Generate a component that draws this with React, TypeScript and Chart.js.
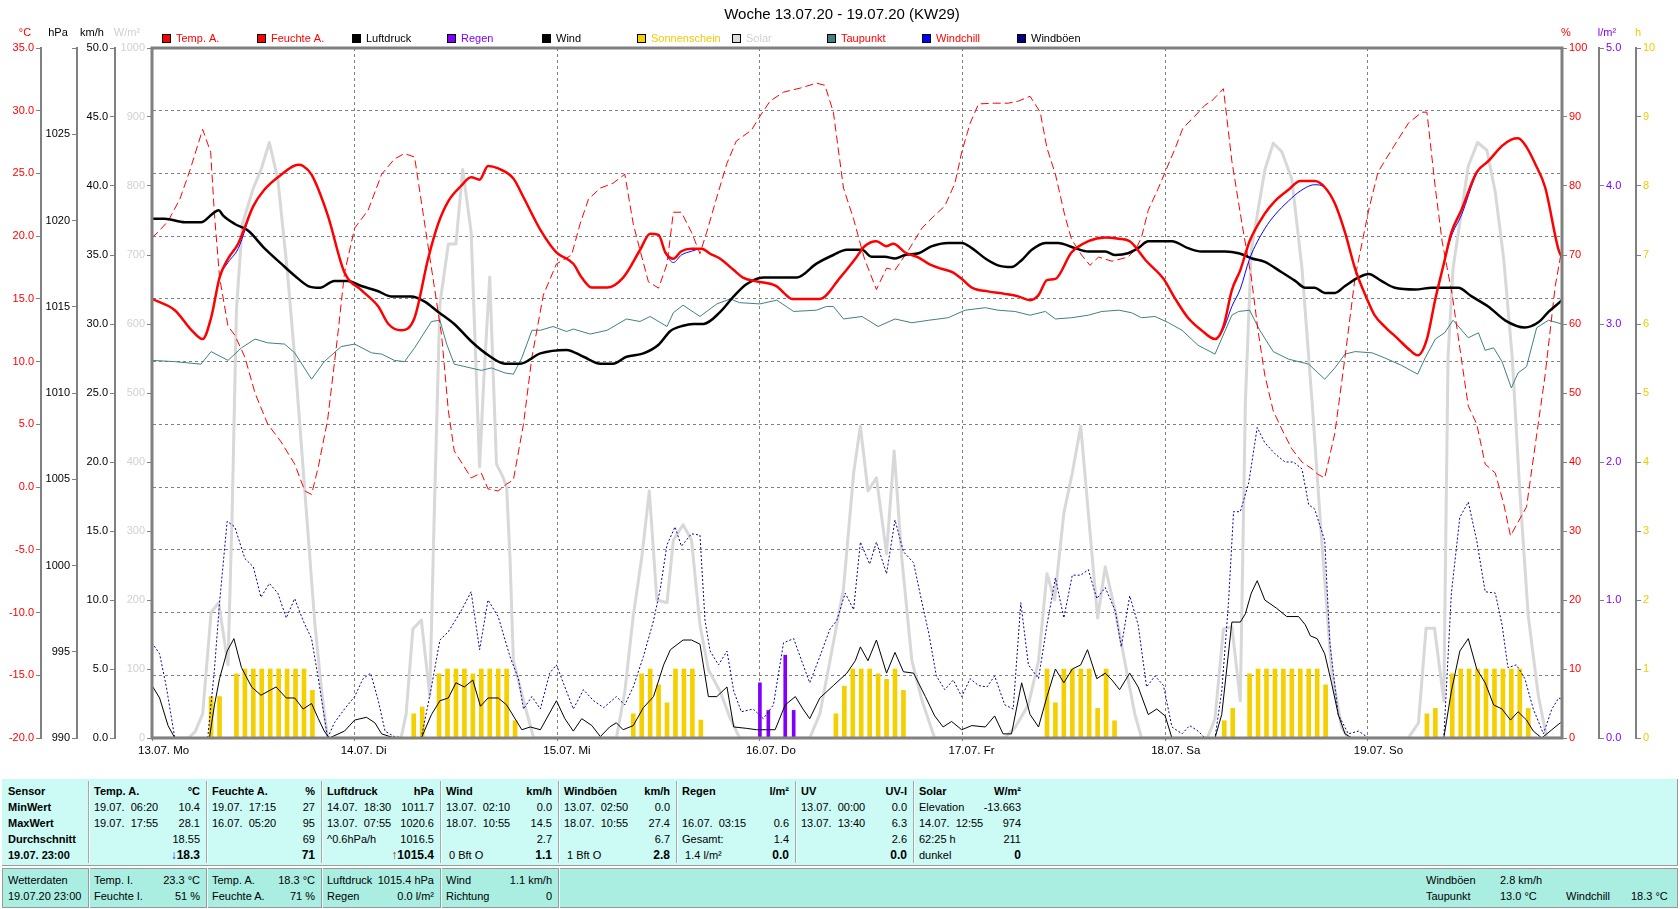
import React, { useEffect, useRef } from 'react';
import { Chart, registerables } from 'chart.js';

Chart.register(...registerables);

const FONT = '"Liberation Sans", Arial, Helvetica, sans-serif';
Chart.defaults.font.family = FONT;

const TITLE = 'Woche 13.07.20 - 19.07.20 (KW29)';
const DAY_LABELS = ['13.07. Mo', '14.07. Di', '15.07. Mi', '16.07. Do', '17.07. Fr', '18.07. Sa', '19.07. So'];
const HOURS_MAX = 167;

type P = [number, number];

// Temp. A. (°C)  [hour since 13.07 00:00, value]
const TEMP: P[] = [[0,15.0],[2.7,14.1],[4.7,12.5],[6.0,11.8],[7.0,13.5],[8.0,16.7],[9.0,18.2],[10.2,19.4],[12.0,22.4],[13.3,23.7],[15.3,24.9],[17.3,25.7],[17.9,25.6],[18.9,24.9],[20.8,21.7],[22.8,17.1],[24.8,15.7],[26.8,14.4],[28.0,13.0],[29.5,12.5],[31.1,13.5],[32.7,18.2],[33.9,21.0],[35.1,22.8],[36.6,24.0],[37.8,24.7],[38.8,24.5],[39.8,25.6],[41.0,25.4],[42.8,24.6],[44.0,23.1],[46.0,20.5],[47.9,18.7],[49.9,17.8],[50.9,16.7],[52.1,15.9],[53.9,15.9],[55.8,16.7],[57.8,18.9],[59.0,20.2],[60.0,20.1],[60.8,18.7],[61.75,18.2],[62.7,18.8],[63.9,19.0],[65.1,19.0],[66.1,18.6],[67.3,18.2],[68.9,17.3],[70.0,16.7],[71.6,16.4],[74.0,16.0],[74.8,15.5],[75.8,15.0],[79.1,15.0],[81.5,16.7],[83.3,18.2],[84.4,19.2],[85.8,19.6],[87.0,19.2],[87.8,19.4],[89.2,18.7],[90.8,18.3],[92.0,17.8],[93.5,17.4],[94.9,17.1],[95.9,16.6],[97.1,15.9],[99.0,15.6],[101.0,15.4],[102.6,15.2],[104.0,14.9],[105.0,15.3],[106.0,16.5],[107.0,16.6],[108.9,18.7],[110.9,19.6],[112.9,19.9],[114.5,19.8],[115.8,19.6],[117.8,18.0],[119.8,16.6],[121.2,15.0],[122.7,13.5],[124.3,12.5],[125.9,11.8],[126.9,12.8],[127.9,15.7],[128.9,17.3],[130.0,19.6],[131.8,21.8],[133.0,22.8],[134.6,23.7],[136.0,24.4],[137.7,24.4],[138.9,23.9],[140.1,22.6],[141.3,20.3],[142.5,17.4],[143.9,15.0],[144.8,13.7],[146.0,12.8],[147.6,11.8],[149.0,10.9],[149.9,10.5],[151.0,11.8],[152.0,15.0],[153.0,17.8],[153.9,20.3],[155.1,22.1],[156.9,25.1],[158.3,26.0],[159.9,27.2],[161.0,27.7],[161.8,27.8],[162.8,27.1],[163.8,25.8],[165.0,23.9],[166.6,18.9],[167,18.3]];

// Windchill (°C)
const WINDCHILL: P[] = [[0,15.0],[2.7,14.1],[4.7,12.5],[6.0,11.8],[7.0,13.5],[8.0,16.7],[9.0,17.9],[10.2,19.0],[12.0,22.4],[13.3,23.7],[15.3,24.9],[17.3,25.7],[17.9,25.6],[18.9,24.9],[20.8,21.7],[22.8,17.1],[24.8,15.7],[26.8,14.4],[28.0,13.0],[29.5,12.5],[31.1,13.5],[32.7,18.2],[33.9,21.0],[35.1,22.8],[36.6,24.0],[37.8,24.7],[38.8,24.5],[39.8,25.6],[41.0,25.4],[42.8,24.6],[44.0,23.1],[46.0,20.5],[47.9,18.7],[49.9,17.8],[50.9,16.7],[52.1,15.9],[53.9,15.9],[55.8,16.7],[57.8,18.9],[59.0,20.2],[60.0,20.1],[60.8,18.7],[61.75,17.9],[62.7,18.5],[63.9,18.8],[65.1,19.0],[66.1,18.6],[67.3,18.2],[68.9,17.3],[70.0,16.7],[71.6,16.4],[74.0,16.0],[74.8,15.5],[75.8,15.0],[79.1,15.0],[81.5,16.7],[83.3,18.2],[84.4,19.2],[85.8,19.6],[87.0,19.2],[87.8,19.4],[89.2,18.7],[90.8,18.3],[92.0,17.8],[93.5,17.4],[94.9,17.1],[95.9,16.6],[97.1,15.9],[99.0,15.6],[101.0,15.4],[102.6,15.2],[104.0,14.9],[105.0,15.3],[106.0,16.5],[107.0,16.6],[108.9,18.7],[110.9,19.6],[112.9,19.9],[114.5,19.8],[115.8,19.6],[117.8,18.0],[119.8,16.6],[121.2,15.0],[122.7,13.5],[124.3,12.5],[125.9,11.8],[126.9,12.6],[127.9,14.4],[128.9,15.8],[130.0,18.2],[131.8,20.6],[133.0,21.7],[134.6,22.8],[136.0,23.6],[137.7,24.1],[138.9,23.9],[140.1,22.6],[141.3,20.3],[142.5,17.4],[143.9,15.0],[144.8,13.7],[146.0,12.8],[147.6,11.8],[149.0,10.9],[149.9,10.5],[151.0,11.8],[152.0,15.0],[153.0,17.8],[153.9,20.0],[155.1,21.7],[156.9,25.0],[158.3,26.0],[159.9,27.2],[161.0,27.7],[161.8,27.8],[162.8,27.1],[163.8,25.8],[165.0,23.9],[166.6,18.9],[167,18.3]];

// Feuchte A. (%)
const HUMIDITY: P[] = [[0,72.5],[0.7,73.3],[1.9,74.9],[3.3,78.1],[4.5,82.3],[6.0,88.2],[6.95,84.9],[7.4,75.8],[8.0,66.8],[9.0,59.7],[9.8,58.4],[11.0,55.2],[12.2,50.0],[13.7,45.5],[15.3,42.9],[16.9,39.7],[18.1,35.8],[18.9,35.3],[19.7,39.3],[20.8,46.1],[22.0,58.4],[22.8,67.4],[24.0,73.9],[25.6,76.5],[27.2,81.7],[28.7,83.9],[29.9,84.7],[31.1,84.2],[32.3,74.5],[33.5,64.9],[34.3,58.4],[35.1,47.4],[35.8,41.6],[37.8,37.7],[39.0,38.4],[39.8,36.1],[41.0,35.8],[42.0,36.8],[42.8,37.4],[44.0,45.5],[45.0,55.2],[46.35,64.2],[47.9,68.7],[49.7,70.0],[50.7,74.5],[51.7,78.1],[53.1,79.7],[54.6,80.4],[56.0,81.7],[57.0,74.5],[57.8,70.7],[58.8,66.1],[60.0,65.2],[61.0,68.7],[61.75,76.2],[62.7,76.2],[63.9,73.3],[64.9,70.2],[65.7,73.3],[66.9,78.4],[68.1,83.3],[69.2,86.5],[71.0,88.1],[72.0,90.1],[73.2,92.3],[74.8,93.6],[76.8,94.2],[78.7,94.9],[79.7,94.6],[80.7,90.7],[81.9,79.7],[83.1,75.2],[84.1,70.7],[84.4,69.4],[85.8,65.0],[87.0,68.1],[88.0,67.8],[89.6,70.7],[91.2,73.9],[92.5,75.5],[93.9,77.1],[95.1,80.4],[95.9,84.9],[96.9,89.1],[97.9,91.9],[99.8,92.0],[101.4,92.0],[102.6,92.3],[104.0,93.0],[105.2,90.7],[106.0,85.5],[107.0,81.7],[108.1,75.8],[108.9,72.3],[110.1,70.0],[111.1,68.5],[112.1,69.7],[113.7,69.1],[115.6,69.7],[116.6,71.0],[117.2,72.6],[118.0,76.5],[119.2,79.7],[120.2,82.6],[121.2,85.5],[122.1,88.4],[123.5,90.1],[124.7,91.7],[125.5,92.3],[126.9,94.1],[127.9,83.6],[129.1,74.5],[130.2,66.8],[131.0,59.0],[131.8,52.6],[132.8,47.4],[133.8,44.8],[135.0,41.9],[136.2,40.0],[137.4,39.0],[138.1,38.2],[138.9,37.7],[140.1,44.2],[141.3,55.2],[142.5,66.8],[144.1,76.5],[145.2,82.0],[146.8,85.2],[148.8,89.1],[150.4,90.7],[151.0,90.7],[152.0,79.7],[152.8,72.0],[154.0,64.2],[154.9,56.5],[155.9,48.1],[156.9,45.5],[157.9,39.7],[159.1,38.4],[160.1,33.9],[160.9,29.3],[161.8,31.3],[162.8,33.5],[163.8,42.2],[165.0,52.6],[166.2,65.5],[167,71]];

// Luftdruck (hPa)
const PRESSURE: P[] = [[0,1020.1],[1.5,1020.1],[3.9,1019.9],[5.8,1019.9],[7.2,1020.4],[7.9,1020.6],[8.4,1020.3],[9.8,1019.8],[11.4,1019.4],[13.3,1018.4],[15.3,1017.5],[16.9,1016.8],[18.5,1016.2],[19.9,1016.1],[21.6,1016.5],[23.2,1016.5],[24.8,1016.2],[26.8,1015.9],[28.3,1015.6],[30.7,1015.6],[32.3,1015.3],[33.9,1014.7],[35.8,1014.0],[37.8,1013.0],[39.8,1012.2],[41.8,1011.7],[43.6,1011.7],[46.0,1012.3],[49.1,1012.5],[51.1,1012.1],[53.1,1011.7],[54.6,1011.7],[56.2,1012.1],[58.2,1012.3],[60.0,1012.8],[61.4,1013.6],[62.9,1013.9],[64.1,1014.0],[65.3,1014.0],[67.3,1014.7],[68.9,1015.6],[70.4,1016.3],[72.4,1016.7],[74.8,1016.7],[76.4,1016.7],[78.7,1017.5],[80.7,1018.0],[82.3,1018.3],[84.1,1018.3],[85.2,1017.9],[86.8,1017.9],[88.0,1017.8],[89.2,1018.0],[90.8,1018.1],[92.3,1018.5],[94.3,1018.7],[95.9,1018.7],[97.1,1018.4],[98.7,1017.8],[100.2,1017.4],[101.8,1017.3],[103.0,1017.7],[104.2,1018.3],[105.8,1018.7],[107.3,1018.7],[109.3,1018.4],[110.9,1018.2],[112.9,1018.2],[114.1,1018.0],[115.6,1018.1],[116.8,1018.4],[118.0,1018.8],[120.8,1018.8],[122.7,1018.4],[124.3,1018.2],[127.1,1018.2],[128.7,1018.1],[130.3,1017.8],[131.8,1017.6],[133.8,1017.0],[135.4,1016.5],[136.6,1016.1],[137.7,1016.1],[138.9,1015.8],[140.1,1015.8],[141.3,1016.2],[142.9,1016.7],[144.1,1016.9],[145.6,1016.5],[147.2,1016.1],[149.6,1016.0],[151.6,1016.1],[154.7,1016.1],[156.3,1015.6],[158.3,1015.0],[160.3,1014.2],[162.6,1013.8],[164.2,1014.1],[165.4,1014.7],[166.8,1015.3],[167,1015.4]];

// Taupunkt (°C)
const DEWPOINT: P[] = [[0,10.1],[2.7,10.0],[5.8,9.8],[7.0,10.8],[9.0,10.1],[10.6,11.1],[12.2,11.8],[13.7,11.5],[15.7,11.4],[16.9,10.7],[18.9,8.6],[20.4,10.0],[22.4,11.2],[24.0,11.4],[26.0,10.7],[27.2,10.6],[28.7,10.1],[29.9,10.0],[31.1,11.1],[33.1,13.2],[34.1,13.3],[34.9,11.4],[35.8,9.8],[39.0,9.3],[40.2,9.5],[41.8,9.1],[42.8,9.0],[43.8,10.3],[45.0,12.5],[46.0,12.5],[47.5,12.8],[49.1,12.4],[49.9,12.6],[51.9,12.2],[53.9,12.5],[56.2,13.4],[57.8,13.2],[59.0,13.6],[61.0,12.8],[61.75,13.9],[62.9,14.5],[64.9,13.6],[66.9,14.6],[68.5,15.0],[69.6,14.7],[72.0,14.6],[74.0,14.9],[76.0,14.0],[78.7,14.1],[79.9,14.4],[80.7,14.4],[81.9,13.4],[84.1,13.6],[86.0,12.8],[88.0,13.4],[90.0,13.1],[92.0,13.3],[94.3,13.5],[96.3,14.1],[98.7,14.3],[100.2,14.1],[102.2,14.0],[104.0,13.7],[105.8,14.0],[107.0,13.4],[108.9,13.5],[110.9,13.7],[112.5,14.0],[114.5,14.1],[116.0,13.9],[117.2,13.5],[118.8,13.6],[120.4,13.1],[122.0,12.5],[123.9,11.3],[125.9,10.6],[127.9,13.7],[128.7,14.0],[130.0,14.1],[131.2,12.5],[132.8,10.8],[134.6,10.2],[137.0,9.8],[138.9,8.6],[140.1,9.5],[141.3,10.6],[142.5,10.8],[144.5,10.7],[146.0,10.3],[148.0,9.7],[149.9,9.0],[150.8,10.3],[152.0,11.8],[153.1,12.3],[154.1,13.3],[155.9,11.9],[157.1,12.3],[157.9,10.9],[158.9,11.1],[159.9,10.0],[161.0,7.9],[161.8,9.1],[162.8,9.6],[164.0,12.7],[165.4,13.3],[167,13.0]];

// Solar (W/m²)
const SOLAR: P[] = [[0,0],[4.3,0],[5.1,9],[6.0,35],[7.0,182],[7.9,196],[9.0,106],[9.5,330],[10.0,620],[10.7,745],[12.0,797],[12.9,823],[13.9,863],[14.9,810],[16.0,680],[16.9,552],[18.1,358],[19.3,164],[20.1,67],[20.8,0],[29.5,0],[30.1,35],[30.9,158],[31.9,171],[32.9,61],[33.5,358],[34.1,629],[35.1,716],[36.0,716],[36.8,824],[37.8,733],[38.8,393],[39.3,520],[40.0,668],[40.8,397],[41.5,380],[42.0,364],[42.4,261],[42.8,112],[44.0,54],[45.2,0],[55.0,0],[56.0,67],[57.0,177],[58.0,261],[58.9,358],[59.8,200],[61.0,196],[61.75,287],[62.9,309],[63.9,287],[64.9,164],[65.9,99],[67.3,67],[68.5,28],[69.6,0],[77.9,0],[79.1,35],[80.3,112],[81.9,216],[83.1,384],[83.9,452],[84.8,358],[85.8,377],[87.0,267],[87.9,416],[88.8,261],[90.0,112],[91.2,54],[92.7,0],[101.0,0],[102.2,15],[103.8,48],[105.0,112],[106.0,238],[106.9,200],[108.0,326],[109.0,384],[110.0,452],[110.9,326],[112.0,174],[112.9,248],[114.1,183],[115.2,112],[116.4,35],[117.2,0],[125.0,0],[125.9,28],[126.9,158],[127.9,161],[128.9,54],[129.5,487],[130.2,707],[131.8,823],[132.8,862],[133.8,850],[135.0,810],[136.2,681],[137.4,487],[138.5,293],[139.7,99],[140.9,15],[141.7,0],[148.8,0],[150.0,22],[150.9,159],[151.9,159],[153.0,54],[153.5,552],[154.1,681],[155.9,829],[157.0,863],[158.1,852],[159.1,791],[160.1,694],[161.1,552],[162.0,358],[163.0,177],[164.2,61],[165.2,0],[167,0]];

// Wind (km/h)
const WIND: P[] = [[0,3.8],[0.9,2.9],[1.9,0.9],[2.7,0],[6.8,0],[7.4,2.4],[8.0,4.3],[8.9,6.3],[9.7,7.2],[10.6,5.1],[11.8,3.7],[12.9,3.1],[14.7,3.7],[15.9,2.9],[16.9,2.9],[17.9,2.1],[18.9,2.5],[19.7,1.4],[20.4,0.5],[21.0,0],[22.8,0.5],[24.0,1.3],[25.4,1.5],[26.4,1.1],[27.2,0.3],[28.7,0],[31.9,0],[33.1,1.7],[34.1,2.7],[35.1,2.9],[36.0,4.0],[37.0,3.7],[38.0,4.2],[38.9,2.3],[39.8,2.9],[41.0,2.9],[42.0,2.4],[42.8,1.6],[43.8,0.6],[44.8,0.8],[46.0,0.6],[47.9,2.7],[48.9,1.4],[49.9,0.5],[50.9,1.4],[52.1,0.9],[53.1,0.1],[54.2,0.8],[55.0,1.1],[55.8,0.6],[57.0,0.9],[58.2,2.2],[59.4,3.0],[60.6,5.3],[61.4,6.4],[62.9,7.1],[63.9,7.1],[64.9,6.8],[65.9,3.0],[66.9,3.0],[68.1,3.7],[68.9,0.8],[70.4,0.7],[71.6,0.6],[72.8,0.6],[73.8,0.6],[75.0,2.4],[76.2,3.0],[77.1,2.1],[77.9,1.4],[79.1,2.9],[80.7,3.8],[82.3,4.7],[83.3,5.6],[83.9,6.6],[84.8,5.6],[85.8,7.1],[87.0,4.7],[88.0,6.2],[89.0,4.8],[90.2,4.7],[91.6,3.0],[92.7,1.6],[93.7,0.8],[94.7,1.2],[95.9,0.6],[97.1,0.9],[98.7,0.8],[99.8,1.6],[100.8,0.3],[101.8,0.3],[103.0,4.0],[104.0,1.7],[105.0,0.8],[106.0,3.0],[107.0,5.0],[108.0,4.0],[109.0,5.0],[110.0,5.3],[110.8,6.4],[111.9,4.3],[112.9,4.7],[113.7,4.2],[114.6,3.5],[115.8,4.7],[116.8,3.7],[118.0,1.7],[119.0,2.1],[120.0,1.6],[120.8,0],[125.9,0],[126.7,1.7],[127.9,8.4],[128.9,8.4],[129.5,9.0],[130.2,10.5],[130.9,11.4],[131.8,10.0],[133.2,9.4],[134.4,8.8],[135.8,8.8],[136.6,8.2],[137.2,7.4],[138.0,7.2],[138.9,6.1],[139.7,4.0],[140.5,1.7],[141.3,0.3],[142.1,0],[153.0,0],[153.9,3.4],[154.9,6.3],[155.9,7.2],[156.9,5.0],[157.9,4.0],[158.9,2.4],[159.9,2.1],[160.9,1.3],[161.8,1.9],[162.8,1.3],[163.6,0.5],[164.6,0],[165.8,0.6],[166.8,1.1],[167,1.1]];

// Windböen (km/h)
const GUST: P[] = [[0,6.9],[0.9,6.1],[1.7,3.7],[2.7,0],[6.6,0],[7.4,5.0],[8.0,9.8],[8.9,15.7],[9.8,15.3],[11.0,13.0],[12.0,12.4],[12.9,10.2],[13.9,11.2],[14.9,10.5],[15.9,8.7],[16.9,10.1],[17.9,8.5],[18.9,7.2],[19.7,4.3],[20.8,0],[21.6,1.1],[22.8,2.1],[24.0,3.0],[25.0,4.3],[25.9,4.7],[26.8,2.7],[27.6,0.5],[28.7,0.1],[29.9,0],[31.9,0],[33.1,3.7],[34.1,7.1],[35.1,7.7],[36.6,9.2],[37.8,10.6],[38.8,6.4],[39.8,10.0],[41.0,8.8],[42.4,5.9],[43.4,4.3],[44.0,2.1],[45.0,3.0],[46.0,2.1],[47.1,4.7],[47.9,5.3],[48.9,3.7],[49.9,2.1],[51.1,3.5],[52.3,2.7],[53.5,2.2],[55.0,3.0],[56.0,2.4],[57.0,3.7],[58.2,5.9],[59.4,8.5],[60.2,10.8],[61.0,14.0],[61.95,15.3],[62.7,13.9],[63.9,14.8],[64.9,14.7],[65.5,8.5],[66.1,6.3],[67.1,5.3],[68.1,6.3],[68.9,3.4],[69.8,1.9],[71.2,2.1],[72.4,1.4],[73.6,2.4],[74.8,6.9],[76.0,7.2],[77.0,5.5],[77.9,4.0],[79.1,5.9],[80.3,7.9],[81.1,8.5],[82.1,10.5],[83.1,9.3],[83.9,14.2],[85.0,12.6],[85.8,14.2],[87.0,11.9],[88.0,15.8],[89.0,13.5],[90.2,12.7],[91.2,9.8],[92.0,7.6],[92.9,4.5],[93.9,3.5],[94.9,4.2],[95.9,3.0],[96.9,4.3],[97.9,3.8],[98.9,3.7],[99.8,4.5],[101.0,2.4],[102.0,2.1],[102.9,9.8],[103.8,5.3],[105.0,4.3],[106.0,8.2],[107.0,11.6],[108.0,8.7],[109.0,11.8],[110.0,11.8],[110.9,12.2],[111.9,10.1],[112.9,10.9],[114.1,9.2],[114.8,6.6],[115.8,10.3],[116.8,8.2],[117.8,3.7],[118.8,4.5],[119.8,3.8],[120.8,0.8],[122.0,0.3],[122.9,0.9],[123.9,0.5],[124.7,0],[125.9,0],[126.7,3.4],[127.5,9.8],[128.1,16.4],[128.9,16.4],[129.9,18.5],[130.9,22.5],[131.8,21.4],[133.0,20.6],[134.2,20.0],[135.2,20.0],[136.2,19.5],[137.0,16.9],[137.7,16.6],[138.9,14.3],[139.5,6.9],[140.5,1.7],[141.7,0.3],[142.9,0.5],[144.1,0],[153.0,0],[153.9,10.5],[154.9,16.0],[155.9,17.1],[156.9,14.3],[157.9,10.6],[159.1,10.5],[159.9,8.2],[160.6,5.1],[161.6,5.3],[162.6,4.3],[163.6,2.1],[164.8,0.3],[165.8,2.1],[166.6,2.9],[167,2.8]];

// Sonnenschein (h per hour)
const SUNSHINE: P[] = [[7,0.6],[8,0.6],[10,0.93],[11,1],[12,1],[13,1],[14,1],[15,1],[16,1],[17,1],[18,1],[19,0.69],[31,0.35],[32,0.45],[34,0.93],[35,1],[36,1],[37,1],[38,0.93],[39,1],[40,1],[41,1],[42,1],[43,0.25],[57,0.35],[58,0.93],[59,1],[60,0.77],[61,0.51],[62,1],[63,1],[64,1],[65,0.26],[81,0.35],[82,0.75],[83,1],[84,1],[85,1],[86,0.93],[87,0.85],[88,1],[89,0.69],[106,1],[107,0.51],[108,1],[109,1],[110,1],[111,1],[112,0.43],[113,1],[114,0.25],[127,0.25],[128,0.43],[130,0.93],[131,1],[132,1],[133,1],[134,1],[135,1],[136,1],[137,1],[138,1],[139,0.77],[151,0.35],[152,0.43],[154,0.93],[155,1],[156,1],[157,1],[158,1],[159,1],[160,1],[161,1],[162,1],[163,0.43]];

// Regen (l/m²)
const RAIN: P[] = [[72,0.4],[73,0.2],[75,0.6],[76,0.2]];

const LEGEND = [
  { label: 'Temp. A.', box: '#FF0000', text: '#FF0000' },
  { label: 'Feuchte A.', box: '#FF0000', text: '#FF0000' },
  { label: 'Luftdruck', box: '#000000', text: '#000000' },
  { label: 'Regen', box: '#8000FF', text: '#8000FF' },
  { label: 'Wind', box: '#000000', text: '#000000' },
  { label: 'Sonnenschein', box: '#F5D000', text: '#F0CC00' },
  { label: 'Solar', box: '#DCDCDC', text: '#D0D0D0' },
  { label: 'Taupunkt', box: '#408080', text: '#FF0000' },
  { label: 'Windchill', box: '#0000FF', text: '#FF0000' },
  { label: 'Windböen', box: '#000080', text: '#000000' },
];

const UNITS = [
  { t: '°C', x: 25, c: '#FF0000' },
  { t: 'hPa', x: 58, c: '#000000' },
  { t: 'km/h', x: 92, c: '#000000' },
  { t: 'W/m²', x: 127, c: '#D0D0D0' },
  { t: '%', x: 1566, c: '#FF0000' },
  { t: 'l/m²', x: 1607, c: '#8000FF' },
  { t: 'h', x: 1638, c: '#F0CC00' },
];

const xy = (a: P[]) => a.map(([x, y]) => ({ x, y }));

const decorPlugin = {
  id: 'decor',
  afterDraw(chart: any) {
    const { ctx, chartArea: a } = chart;
    ctx.save();
    ctx.setLineDash([]);
    ctx.strokeStyle = '#808080';
    ctx.lineWidth = 3;
    ctx.strokeRect(a.left, a.top, a.right - a.left, a.bottom - a.top);
    ctx.textBaseline = 'middle';
    ctx.textAlign = 'center';
    ctx.fillStyle = '#000';
    ctx.font = `15px ${FONT}`;
    ctx.fillText(TITLE, 842, 15);
    ctx.font = `11px ${FONT}`;
    UNITS.forEach((u) => {
      ctx.fillStyle = u.c;
      ctx.fillText(u.t, u.x, 33);
    });
    ctx.textAlign = 'left';
    LEGEND.forEach((l, i) => {
      const x = 162 + i * 95;
      ctx.fillStyle = l.box;
      ctx.fillRect(x, 34, 9, 9);
      ctx.strokeStyle = '#000';
      ctx.lineWidth = 1;
      ctx.strokeRect(x + 0.5, 34.5, 8, 8);
      ctx.fillStyle = l.text;
      ctx.fillText(l.label, x + 14, 39);
    });
    ctx.restore();
  },
};

const axis = (
  position: string, weight: number, width: number, color: string,
  min: number, max: number, step: number, fmt: (v: number) => string,
) => ({
  type: 'linear',
  position,
  weight,
  min,
  max,
  ticks: {
    stepSize: step,
    color,
    font: { size: 11, family: FONT },
    padding: 2,
    autoSkip: false,
    maxTicksLimit: 100,
    callback: (v: any) => fmt(Number(v)),
  },
  grid: { drawOnChartArea: false, drawTicks: true, tickLength: 5, tickColor: '#808080', tickWidth: 1, color: '#808080', offset: false },
  border: { display: true, color: '#808080', width: 2 },
  afterFit: (s: any) => { s.width = width; },
});

const lineDs = (label: string, data: P[], axisId: string, color: string, width: number, extra: any = {}) => ({
  type: 'line',
  label,
  data: xy(data),
  yAxisID: axisId,
  xAxisID: 'x',
  borderColor: color,
  backgroundColor: color,
  borderWidth: width,
  pointRadius: 0,
  fill: false,
  tension: 0,
  borderJoinStyle: 'round',
  ...extra,
});

function WeatherChart() {
  const ref = useRef<HTMLCanvasElement>(null);
  useEffect(() => {
    const yT: any = axis('left', 4, 41, '#FF0000', -20, 35, 5, (v) => v.toFixed(1));
    yT.grid = { drawOnChartArea: true, drawTicks: true, tickLength: 5, tickColor: '#808080', tickWidth: 1, color: '#808080', lineWidth: 1, offset: false };
    yT.border = { display: true, color: '#808080', width: 2, dash: [3, 3] };
    const chart = new Chart(ref.current as HTMLCanvasElement, {
      type: 'line',
      data: {
        datasets: [
          lineDs('Temp. A.', TEMP, 'yT', '#FF0000', 2.5, { cubicInterpolationMode: 'monotone', order: 0 }),
          lineDs('Windchill', WINDCHILL, 'yT', '#0000FF', 1, { cubicInterpolationMode: 'monotone', order: 1 }),
          lineDs('Luftdruck', PRESSURE, 'yP', '#000000', 2.5, { cubicInterpolationMode: 'monotone', order: 2 }),
          lineDs('Feuchte A.', HUMIDITY, 'yH', '#FF0000', 1, { borderDash: [8, 4], order: 3 }),
          lineDs('Taupunkt', DEWPOINT, 'yT', '#408080', 1, { order: 4 }),
          lineDs('Wind', WIND, 'yW', '#000000', 1, { order: 5 }),
          lineDs('Windböen', GUST, 'yW', '#0000A0', 1, { borderDash: [2, 2], order: 6 }),
          { type: 'bar', label: 'Regen', data: xy(RAIN), yAxisID: 'yR', xAxisID: 'x', backgroundColor: '#8000FF', borderWidth: 0, barThickness: 3, grouped: false, order: 7 },
          { type: 'bar', label: 'Sonnenschein', data: xy(SUNSHINE), yAxisID: 'yh', xAxisID: 'x', backgroundColor: '#F5D000', borderWidth: 0, barThickness: 4, grouped: false, order: 8 },
          lineDs('Solar', SOLAR, 'yS', '#D8D8D8', 3, { order: 9 }),
        ] as any,
      },
      options: {
        responsive: false,
        maintainAspectRatio: false,
        animation: false,
        devicePixelRatio: 1,
        events: [],
        layout: { padding: { top: 48, left: 0, right: 0, bottom: 0 } },
        plugins: { legend: { display: false }, tooltip: { enabled: false }, title: { display: false } },
        scales: {
          x: {
            type: 'linear',
            position: 'bottom',
            min: 0,
            max: HOURS_MAX,
            offset: false,
            ticks: {
              stepSize: 24,
              includeBounds: false,
              autoSkip: false,
              maxRotation: 0,
              minRotation: 0,
              align: 'start',
              labelOffset: -14,
              padding: 1,
              color: '#000000',
              font: { size: 11.5, family: FONT },
              callback: (v: any) => DAY_LABELS[Math.round(Number(v) / 24)] ?? '',
            },
            grid: { offset: false, drawOnChartArea: true, drawTicks: true, tickLength: 5, color: '#808080', tickColor: '#808080', tickBorderDash: [3, 3], lineWidth: 1 },
            border: { display: false, dash: [3, 3] },
            afterFit: (s: any) => { s.height = 37; },
          },
          yT,
          yP: axis('left', 3, 36, '#000000', 990, 1030, 5, (v) => (v >= 1030 ? '' : String(v))),
          yW: axis('left', 2, 38, '#000000', 0, 50, 5, (v) => v.toFixed(1)),
          yS: axis('left', 1, 37, '#D0D0D0', 0, 1000, 100, (v) => String(v)),
          yH: axis('right', 1, 37, '#FF0000', 0, 100, 10, (v) => String(v)),
          yR: axis('right', 2, 37, '#8000FF', 0, 5, 1, (v) => v.toFixed(1)),
          yh: axis('right', 3, 44, '#F0CC00', 0, 10, 1, (v) => String(v)),
        } as any,
      },
      plugins: [decorPlugin],
    } as any);
    return () => chart.destroy();
  }, []);
  return (
    <canvas
      ref={ref}
      width={1680}
      height={775}
      style={{ position: 'absolute', left: 0, top: 0, width: 1680, height: 775 }}
    />
  );
}

// ---------- info table ----------
const SENSOR_ROWS = ['Sensor', 'MinWert', 'MaxWert', 'Durchschnitt', '19.07. 23:00'];
type Cell = [string, string];
const TABLE_COLS: { head: Cell; rows: Cell[]; arrow?: string; arrowColor?: string }[] = [
  { head: ['Temp. A.', '°C'], rows: [['19.07.  06:20', '10.4'], ['19.07.  17:55', '28.1'], ['', '18.55'], ['', '18.3']], arrow: '↓', arrowColor: '#0030FF' },
  { head: ['Feuchte A.', '%'], rows: [['19.07.  17:15', '27'], ['16.07.  05:20', '95'], ['', '69'], ['', '71']] },
  { head: ['Luftdruck', 'hPa'], rows: [['14.07.  18:30', '1011.7'], ['13.07.  07:55', '1020.6'], ['^0.6hPa/h', '1016.5'], ['', '1015.4']], arrow: '↑', arrowColor: '#803010' },
  { head: ['Wind', 'km/h'], rows: [['13.07.  02:10', '0.0'], ['18.07.  10:55', '14.5'], ['', '2.7'], [' 0 Bft O', '1.1']] },
  { head: ['Windböen', 'km/h'], rows: [['13.07.  02:50', '0.0'], ['18.07.  10:55', '27.4'], ['', '6.7'], [' 1 Bft O', '2.8']] },
  { head: ['Regen', 'l/m²'], rows: [['', ''], ['16.07.  03:15', '0.6'], ['Gesamt:', '1.4'], [' 1.4 l/m²', '0.0']] },
  { head: ['UV', 'UV-I'], rows: [['13.07.  00:00', '0.0'], ['13.07.  13:40', '6.3'], ['', '2.6'], ['', '0.0']] },
  { head: ['Solar', 'W/m²'], rows: [['Elevation', '-13.663'], ['14.07.  12:55', '974'], ['62:25 h', '211'], ['dunkel', '0']] },
];
const COL_EDGES = [88, 206, 321, 440, 558, 676, 795, 913, 1027];

const BOTTOM_COLS: Cell[][] = [
  [['Temp. I.', '23.3 °C'], ['Feuchte I.', '51 %']],
  [['Temp. A.', '18.3 °C'], ['Feuchte A.', '71 %']],
  [['Luftdruck', '1015.4 hPa'], ['Regen', '0.0 l/m²']],
  [['Wind', '1.1 km/h'], ['Richtung', '0']],
];
const BOTTOM_EXTRA: { t: string; x: number; r: number }[] = [
  { t: 'Windböen', x: 1426, r: 0 },
  { t: '2.8 km/h', x: 1500, r: 0 },
  { t: 'Taupunkt', x: 1426, r: 1 },
  { t: '13.0 °C', x: 1500, r: 1 },
  { t: 'Windchill', x: 1566, r: 1 },
  { t: '18.3 °C', x: 1631, r: 1 },
];

const txt: React.CSSProperties = {
  position: 'absolute',
  fontSize: 11,
  lineHeight: '16px',
  height: 16,
  whiteSpace: 'pre',
  color: '#000',
};

function InfoTable() {
  const topY = 779;
  const botY = 868;
  return (
    <>
      <div style={{ position: 'absolute', left: 2, top: topY, width: 1675, height: 86, background: '#CCFAF5', borderBottom: '1px solid #9A9A9A', borderRight: '1px solid #9A9A9A' }} />
      {COL_EDGES.slice(0, 8).map((x, i) => (
        <div key={'sep' + i} style={{ position: 'absolute', left: x, top: topY + 2, width: 1, height: 82, background: '#A8A8A8', borderRight: '1px solid #F4FFFF' }} />
      ))}
      {SENSOR_ROWS.map((s, r) => (
        <div key={'s' + r} style={{ ...txt, left: 8, top: topY + 4 + r * 16, fontWeight: 'bold' }}>{s}</div>
      ))}
      {TABLE_COLS.map((c, ci) => {
        const l = COL_EDGES[ci];
        const rEdge = COL_EDGES[ci + 1];
        return (
          <React.Fragment key={'c' + ci}>
            <div style={{ ...txt, left: l + 6, top: topY + 4, fontWeight: 'bold' }}>{c.head[0]}</div>
            <div style={{ ...txt, right: 1680 - rEdge + 6, top: topY + 4, fontWeight: 'bold', textAlign: 'right' }}>{c.head[1]}</div>
            {c.rows.map((row, ri) => (
              <React.Fragment key={'r' + ri}>
                <div style={{ ...txt, left: l + 6, top: topY + 20 + ri * 16 }}>{row[0]}</div>
                <div style={{ ...txt, right: 1680 - rEdge + 6, top: topY + 20 + ri * 16, textAlign: 'right', fontWeight: ri === 3 ? 'bold' : 'normal', fontSize: ri === 3 ? 12 : 11 }}>
                  {ri === 3 && c.arrow ? <span style={{ color: c.arrowColor }}>{c.arrow}</span> : null}
                  {row[1]}
                </div>
              </React.Fragment>
            ))}
          </React.Fragment>
        );
      })}
      <div style={{ position: 'absolute', left: 2, top: botY, width: 1674, height: 38, background: '#AAEEE2', border: '1px solid #9A9A9A' }} />
      {COL_EDGES.slice(0, 5).map((x, i) => (
        <div key={'bsep' + i} style={{ position: 'absolute', left: x, top: botY, width: 1, height: 40, background: '#9A9A9A', borderRight: '1px solid #E8FFFF' }} />
      ))}
      <div style={{ ...txt, left: 8, top: botY + 4 }}>Wetterdaten</div>
      <div style={{ ...txt, left: 8, top: botY + 20 }}>19.07.20 23:00</div>
      {BOTTOM_COLS.map((col, ci) => {
        const l = COL_EDGES[ci];
        const rEdge = COL_EDGES[ci + 1];
        return col.map((row, ri) => (
          <React.Fragment key={'b' + ci + '-' + ri}>
            <div style={{ ...txt, left: l + 6, top: botY + 4 + ri * 16 }}>{row[0]}</div>
            <div style={{ ...txt, right: 1680 - rEdge + 6, top: botY + 4 + ri * 16, textAlign: 'right' }}>{row[1]}</div>
          </React.Fragment>
        ));
      })}
      {BOTTOM_EXTRA.map((e, i) => (
        <div key={'be' + i} style={{ ...txt, left: e.x, top: botY + 4 + e.r * 16 }}>{e.t}</div>
      ))}
    </>
  );
}

export default function App() {
  return (
    <div style={{ position: 'fixed', left: 0, top: 0, width: 1680, height: 909, background: '#FFFFFF', overflow: 'hidden', fontFamily: FONT }}>
      <WeatherChart />
      <InfoTable />
    </div>
  );
}
